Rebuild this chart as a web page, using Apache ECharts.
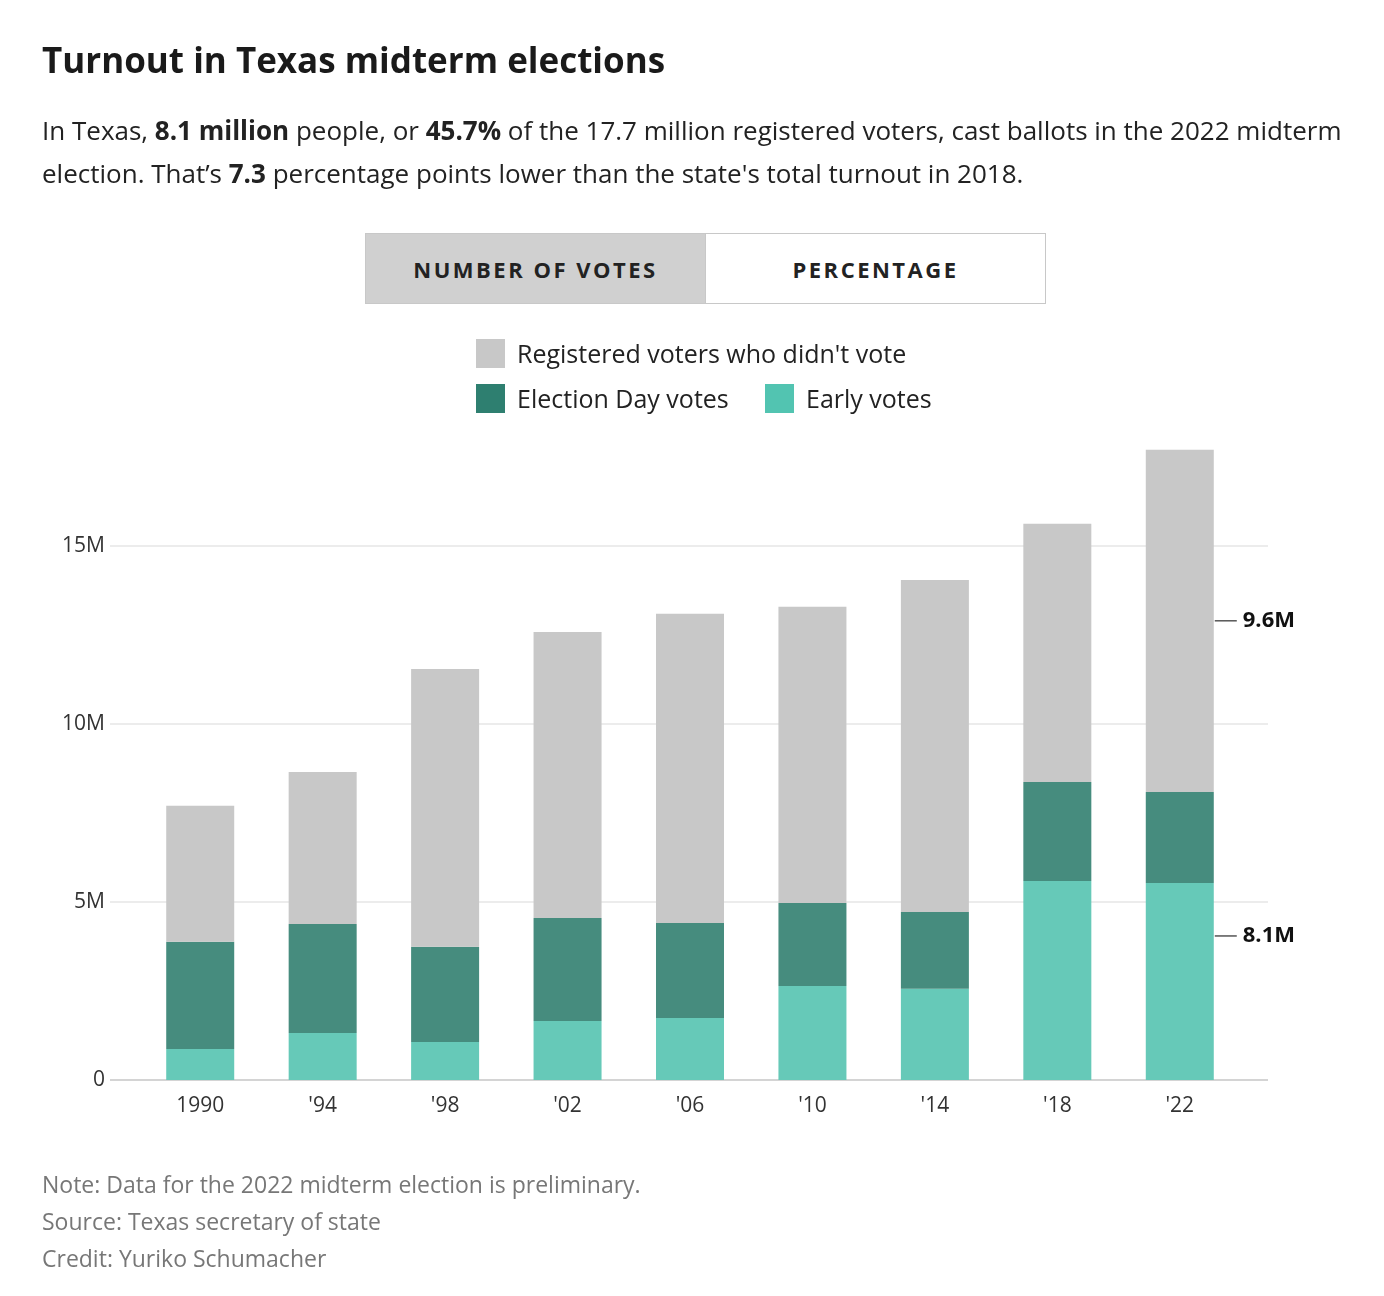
<!DOCTYPE html>
<html><head><meta charset="utf-8">
<script src="https://cdn.jsdelivr.net/npm/echarts@6/dist/echarts.min.js"></script>
<style>
body{margin:0;background:#fff;font-family:"Open Sans",sans-serif;color:#222}
#chart{position:absolute;left:0;top:0;width:1384px;height:1296px}
.abs{position:absolute}
h1{position:absolute;left:42px;top:36px;margin:0;font-size:35px;font-weight:700;color:#1a1a1a}
.sub{left:42px;top:109px;width:1300px;font-size:26px;line-height:43px;color:#222}
.btn{top:233px;height:69px;width:339px;border:1px solid #c8c8c8;font-size:22px;font-weight:700;letter-spacing:2.5px;display:flex;align-items:center;justify-content:center;color:#222}
.leg{font-size:25px;color:#222;display:flex;align-items:center}
.sw{width:29px;height:29px;margin-right:12px;display:inline-block}
.foot{left:42px;font-size:23px;color:#777}
</style></head><body>
<div id="chart"></div>
<h1>Turnout in Texas midterm elections</h1>
<div class="abs sub">In Texas, <b>8.1 million</b> people, or <b>45.7%</b> of the 17.7 million registered voters, cast ballots in the 2022 midterm election. That’s <b>7.3</b> percentage points lower than the state's total turnout in 2018.</div>
<div class="abs btn" style="left:365px;background:#d0d0d0">NUMBER OF VOTES</div>
<div class="abs btn" style="left:705px;background:#fff">PERCENTAGE</div>
<div class="abs leg" style="left:476px;top:336px"><span class="sw" style="background:#c8c8c8"></span>Registered voters who didn't vote</div>
<div class="abs leg" style="left:476px;top:381px"><span class="sw" style="background:#2e7f70"></span>Election Day votes</div>
<div class="abs leg" style="left:765px;top:381px"><span class="sw" style="background:#52c4b1"></span>Early votes</div>
<div class="abs foot" style="top:1168px">Note: Data for the 2022 midterm election is preliminary.</div>
<div class="abs foot" style="top:1205px">Source: Texas secretary of state</div>
<div class="abs foot" style="top:1242px">Credit: Yuriko Schumacher</div>
<script>
const years = ["1990", "'94", "'98", "'02", "'06", "'10", "'14", "'18", "'22"];
const earlyVotes = [0.87, 1.32, 1.07, 1.66, 1.74, 2.64, 2.56, 5.59, 5.53];
const electionDayVotes = [3.01, 3.06, 2.67, 2.89, 2.67, 2.33, 2.16, 2.78, 2.56];
const didNotVote = [3.82, 4.27, 7.80, 8.03, 8.68, 8.32, 9.32, 7.25, 9.61];
const yTicks = [0, 5, 10, 15];

const chart = echarts.init(document.getElementById('chart'));
const bar = (name, data, color) => ({
  name, type: 'bar', stack: 'v', data, barWidth: 68,
  itemStyle: { color }, xAxisIndex: 0, yAxisIndex: 0
});
chart.setOption({
  animation: false,
  grid: [
    { left: 139, right: 143, top: 439, bottom: 216 },
    { left: 110, right: 116, top: 439, bottom: 216 }
  ],
  xAxis: [
    { type: 'category', data: years, gridIndex: 0,
      axisLine: { show: false }, axisTick: { show: false },
      axisLabel: { color: '#333', fontSize: 21, margin: 16, fontFamily: 'Open Sans' } },
    { type: 'value', gridIndex: 1, show: true, min: 0, max: 1,
      axisLine: { show: false }, axisTick: { show: false }, axisLabel: { show: false }, splitLine: { show: false } }
  ],
  yAxis: [
    { type: 'value', gridIndex: 0, min: 0, max: 18, interval: 5, show: false },
    { type: 'value', gridIndex: 1, min: 0, max: 18, interval: 5,
      axisLine: { show: true, lineStyle: { color: '#ccc' } }, axisTick: { show: false },
      splitLine: { show: true, showMaxLine: false, lineStyle: { color: '#e6e6e6', width: 1.5 } },
      axisLabel: { showMaxLabel: false, color: '#333', fontSize: 21, margin: 5, fontFamily: 'Open Sans',
        formatter: v => yTicks.includes(v) ? (v === 0 ? '0' : v + 'M') : '' } }
  ],
  series: [
    bar('Early votes', earlyVotes, '#66c9b8'),
    bar('Election Day votes', electionDayVotes, '#468c7e'),
    bar("Registered voters who didn't vote", didNotVote, '#c8c8c8')
  ]
});
// bottom baseline across wider grid
chart.setOption({ yAxis: [{}, { axisLine: { show: false } }] });
const last = years.length - 1;
const turnout = earlyVotes[last] + electionDayVotes[last];
const total = turnout + didNotVote[last];
const annot = [
  { y: (turnout + total) / 2, text: didNotVote[last].toFixed(1) + 'M' },
  { y: turnout / 2, text: turnout.toFixed(1) + 'M' }
];
const base = chart.convertToPixel({ xAxisIndex: 0, yAxisIndex: 0 }, [last, 0]);
const g0 = chart.convertToPixel({ xAxisIndex: 1, yAxisIndex: 1 }, [0, 0]);
const g1 = chart.convertToPixel({ xAxisIndex: 1, yAxisIndex: 1 }, [1, 0]);
const elems = [{ type: 'line', shape: { x1: g0[0], y1: g0[1], x2: g1[0], y2: g1[1] }, style: { stroke: '#ccc', lineWidth: 1.5 } }];
annot.forEach(a => {
  const p = chart.convertToPixel({ xAxisIndex: 0, yAxisIndex: 0 }, [last, a.y]);
  const x0 = base[0] + 35;
  elems.push({ type: 'line', shape: { x1: x0, y1: p[1], x2: x0 + 22, y2: p[1] }, style: { stroke: '#555', lineWidth: 1.5 } });
  elems.push({ type: 'text', x: x0 + 28, y: p[1], style: { text: a.text, fill: '#111', font: 'bold 22px "Open Sans"', textVerticalAlign: 'middle' } });
});
chart.setOption({ graphic: elems });
</script>
</body></html>
